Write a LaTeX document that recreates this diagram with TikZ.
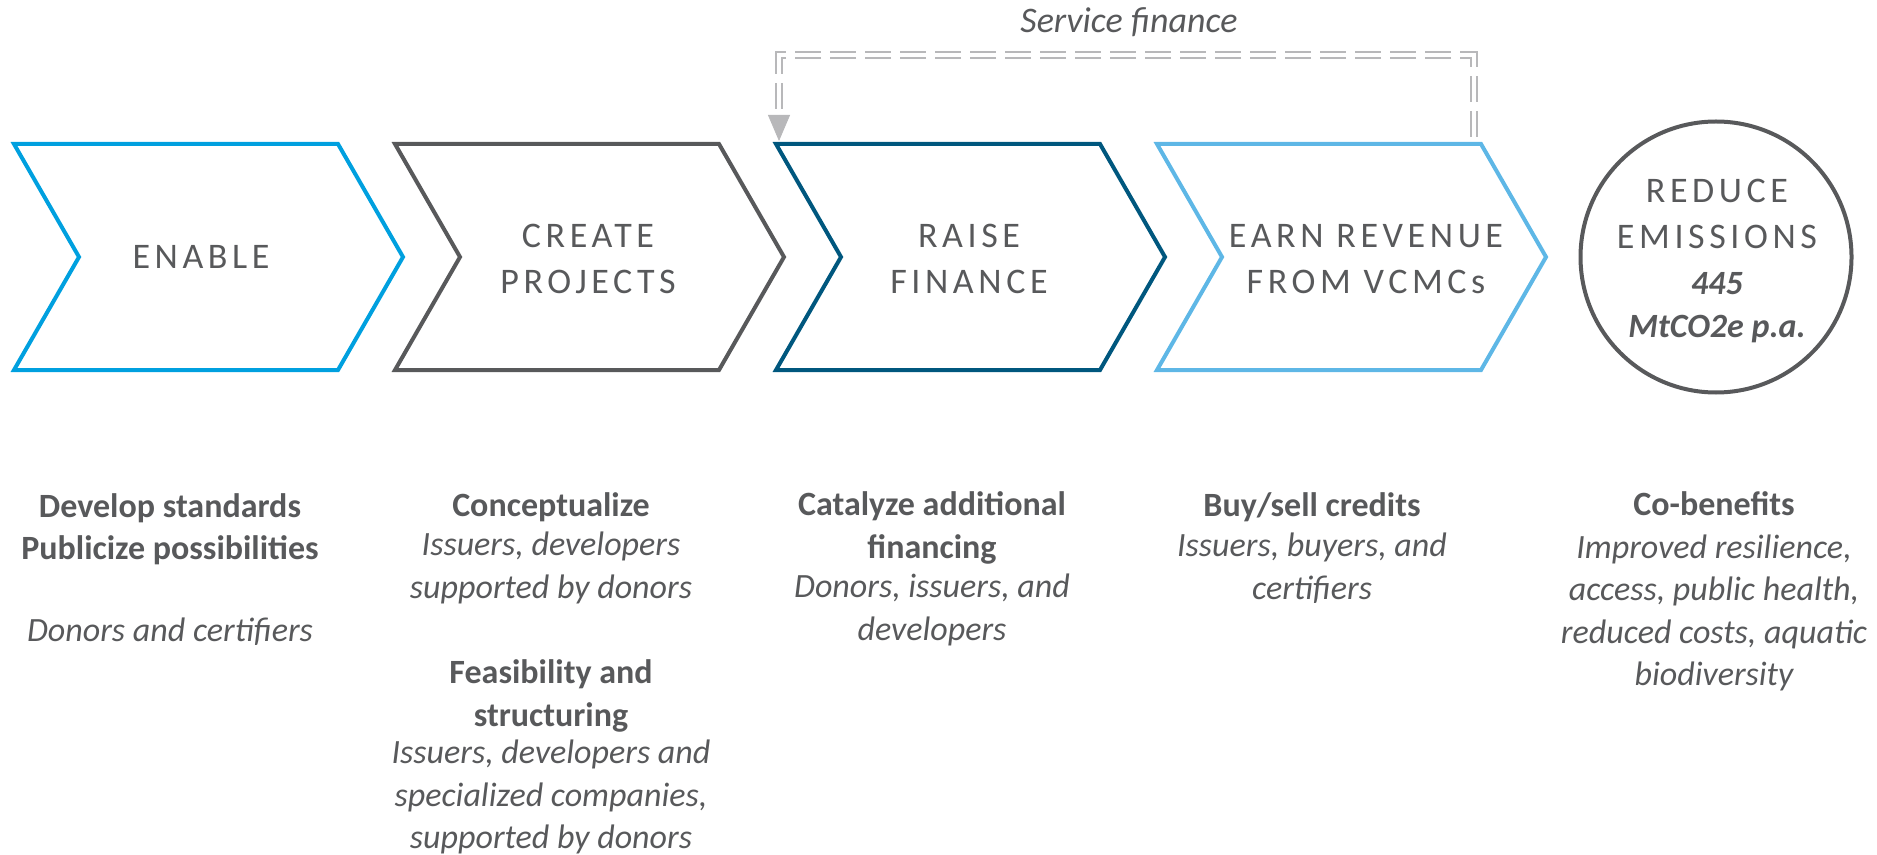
\documentclass[tikz,border=0pt]{standalone}
\usepackage{fontspec}
\setmainfont{Carlito}
\newfontfamily\spacedfont[LetterSpace=12.8]{Carlito}
\usetikzlibrary{arrows.meta}

\definecolor{enableblue}{RGB}{0,160,223}
\definecolor{projgray}{RGB}{88,89,91}
\definecolor{financeblue}{RGB}{0,87,126}
\definecolor{revenueblue}{RGB}{94,183,230}
\definecolor{dashgray}{RGB}{184,184,186}
\definecolor{textgray}{RGB}{88,89,91}

\newcommand\emfig{\normalfont\bfseries\itshape\fontsize{17}{21}\selectfont}

\begin{document}
\begin{tikzpicture}[x=0.5pt,y=-0.5pt,
		chevron/.style={line width=2pt,line join=miter},
		stage label/.style={text=textgray,align=center,font=\spacedfont\fontsize{18}{23}\selectfont},
		task label/.style={text=textgray,align=center,font=\bfseries\fontsize{17}{21.2}\selectfont},
		actor label/.style={text=textgray,align=center,font=\itshape\fontsize{17}{21.2}\selectfont},
		service line/.style={draw=dashgray,line width=1.1pt,double=white,double distance=1.6pt,dash pattern=on 13pt off 4.5pt}
		]
		\useasboundingbox (0,0) rectangle (1877,855);
		
		\def \w {324}
		\def \d {65}
		
		% chevrons
		\foreach \s/\col/\x in {1/enableblue/14,2/projgray/395,3/financeblue/776,4/revenueblue/1157} {
			\draw[chevron,draw=\col] (\x,144) -- ++(\w,0) -- ++(\d,113) -- ++(-\d,113) -- ++(-\w,0) -- ++(\d,-113) -- cycle;
		}
		\node[stage label] (enable) at (201,257) {ENABLE};
		\node[stage label] (create) at (588,259) {CREATE\\PROJECTS};
		\node[stage label] (raise) at (969,259) {RAISE\\FINANCE};
		\node[stage label] (earn) at (1366,259) {EARN REVENUE\\FROM VCMCs};
		
		\node[circle,draw=projgray,line width=2pt,minimum size=135.5pt,inner sep=0pt] (reduce) at (1716,257) {};
		\node[stage label] (reduce-text) at (1717,261) {REDUCE\\EMISSIONS\\{\emfig 445}\\[-1.5pt]{\emfig MtCO2e p.a.}};
		
		% service finance loop
		\coordinate (loop-start) at (1474,137);
		\coordinate (loop-end) at (779,141);
		\draw[service line,shorten >=13pt] (loop-start) -- ++(0,-82) -| (loop-end);
		\draw[dashgray,-{Triangle[length=13pt,width=11pt]}] ([yshift=13pt]loop-end) -- (loop-end);
		\node[font=\itshape\fontsize{18}{22}\selectfont,text=textgray] (service) at (1129,22) {Service finance};
		
		% actors
		\node[task label] (enable-task) at (170,529) {Develop standards\\Publicize possibilities};
		\node[actor label] (enable-actor) at (170,632) {Donors and certifiers};
		
		\node[task label] (create-task1) at (551,507) {Conceptualize};
		\node[actor label] (create-actor1) at (551,568) {Issuers, developers\\supported by donors};
		\node[task label] (create-task2) at (551,696) {Feasibility and\\structuring};
		\node[actor label,inner sep=0pt] (create-actor2) at (551,797) {Issuers, developers and\\specialized companies,\\supported by donors};
		
		\node[task label] (raise-task) at (932,528) {Catalyze additional\\financing};
		\node[actor label] (raise-actor) at (932,610) {Donors, issuers, and\\developers};
		
		\node[task label] (earn-task) at (1312,507) {Buy/sell credits};
		\node[actor label] (earn-actor) at (1312,568) {Issuers, buyers, and\\certifiers};
		
		\node[task label] (reduce-task) at (1714,504) {Co-benefits};
		\node[actor label] (reduce-actor) at (1714,613) {Improved resilience,\\access, public health,\\reduced costs, aquatic\\biodiversity};
\end{tikzpicture}
\end{document}
